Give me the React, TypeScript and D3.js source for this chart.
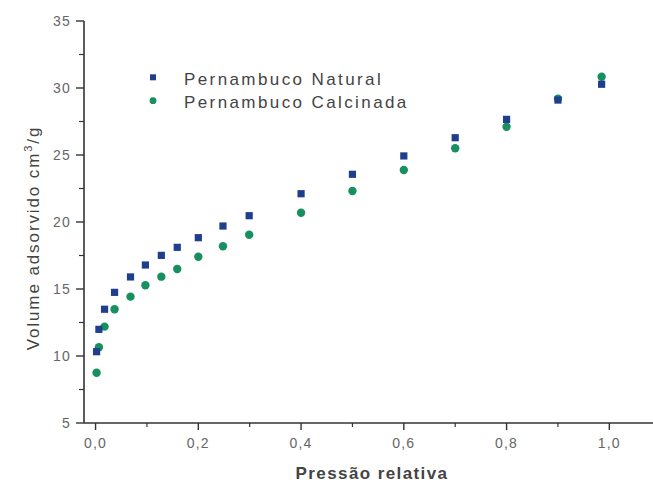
import React from "react";
import * as d3 from "d3";

const pressure = [0.002, 0.0065, 0.0175, 0.037, 0.068, 0.097, 0.128, 0.159, 0.2, 0.248, 0.299, 0.4, 0.5, 0.6, 0.7, 0.8, 0.9, 0.985];
const natural = [10.32, 11.99, 13.49, 14.75, 15.9, 16.79, 17.51, 18.11, 18.83, 19.7, 20.47, 22.11, 23.56, 24.93, 26.29, 27.66, 29.1, 30.28];
const calcinada = [8.75, 10.65, 12.19, 13.49, 14.43, 15.28, 15.92, 16.49, 17.41, 18.19, 19.05, 20.69, 22.31, 23.88, 25.5, 27.11, 29.2, 30.84];
const xTicks = [0, 0.2, 0.4, 0.6, 0.8, 1.0];
const xMinor = [0.1, 0.3, 0.5, 0.7, 0.9];
const yTicks = [5, 10, 15, 20, 25, 30, 35];
const yMinor = [7.5, 12.5, 17.5, 22.5, 27.5, 32.5];
const seriesNames = ["Pernambuco Natural", "Pernambuco Calcinada"];

const W = 653;
const H = 487;
const BLUE = "#1f3e8e";
const GREEN = "#17905f";
const AXIS = "#333";
const FONT = "'Liberation Sans', Arial, sans-serif";

export default function App() {
  const x = d3.scaleLinear().domain([-0.0225, 1.085]).range([84, 653]);
  const y = d3.scaleLinear().domain([5, 35]).range([423, 21]);
  const fmt = (v: number) => d3.format(".1f")(v).replace(".", ",");

  return (
    <svg
      width={W}
      height={H}
      style={{ position: "absolute", left: 0, top: 0, background: "#fff" }}
      fontFamily={FONT}
    >
      <rect width={W} height={H} fill="#fff" />
      {/* axes */}
      <line x1={x.range()[0]} x2={x.range()[1]} y1={y(5)} y2={y(5)} stroke={AXIS} strokeWidth={1.6} />
      <line x1={x.range()[0]} x2={x.range()[0]} y1={y(5)} y2={y(35)} stroke={AXIS} strokeWidth={1.6} />
      {yTicks.map((t) => (
        <g key={"yt" + t}>
          <line x1={x.range()[0] - 8} x2={x.range()[0]} y1={y(t)} y2={y(t)} stroke={AXIS} strokeWidth={1.4} />
          <text x={71} y={y(t)} dy="0.36em" textAnchor="end" fontSize={14} fill="#666" letterSpacing={1.2}>
            {t}
          </text>
        </g>
      ))}
      {yMinor.map((t) => (
        <line key={"ym" + t} x1={x.range()[0] - 5} x2={x.range()[0]} y1={y(t)} y2={y(t)} stroke={AXIS} strokeWidth={1.2} />
      ))}
      {xTicks.map((t) => (
        <g key={"xt" + t}>
          <line x1={x(t)} x2={x(t)} y1={y(5)} y2={y(5) + 7} stroke={AXIS} strokeWidth={1.4} />
          <text x={x(t)} y={448} textAnchor="middle" fontSize={14} fill="#666" letterSpacing={1.2}>
            {fmt(t)}
          </text>
        </g>
      ))}
      {xMinor.map((t) => (
        <line key={"xm" + t} x1={x(t)} x2={x(t)} y1={y(5)} y2={y(5) + 4} stroke={AXIS} strokeWidth={1.2} />
      ))}
      {/* axis titles */}
      <text x={372} y={479} textAnchor="middle" fontSize={17} fontWeight="bold" fill="#444" letterSpacing={1.4}>
        Pressão relativa
      </text>
      <text
        transform={`translate(38.5, 238) rotate(-90)`}
        textAnchor="middle"
        fontSize={17}
        fill="#444"
        letterSpacing={1.9}
      >
        Volume adsorvido cm
        <tspan fontSize={11} dy={-7}>3</tspan>
        <tspan dy={7}>/g</tspan>
      </text>
      {/* data */}
      {pressure.map((p, i) => (
        <circle key={"c" + i} cx={x(p)} cy={y(calcinada[i])} r={4.2} fill={GREEN} />
      ))}
      {pressure.map((p, i) => (
        <rect key={"s" + i} x={x(p) - 3.6} y={y(natural[i]) - 3.6} width={7.2} height={7.2} fill={BLUE} />
      ))}
      {/* legend */}
      <rect x={153 - 3} y={77.3 - 3} width={6} height={6} fill={BLUE} />
      <circle cx={153} cy={100.7} r={3.4} fill={GREEN} />
      <text x={184} y={85} fontSize={17} fill="#444" letterSpacing={2.4}>
        {seriesNames[0]}
      </text>
      <text x={184} y={107.5} fontSize={17} fill="#444" letterSpacing={2.4}>
        {seriesNames[1]}
      </text>
    </svg>
  );
}
